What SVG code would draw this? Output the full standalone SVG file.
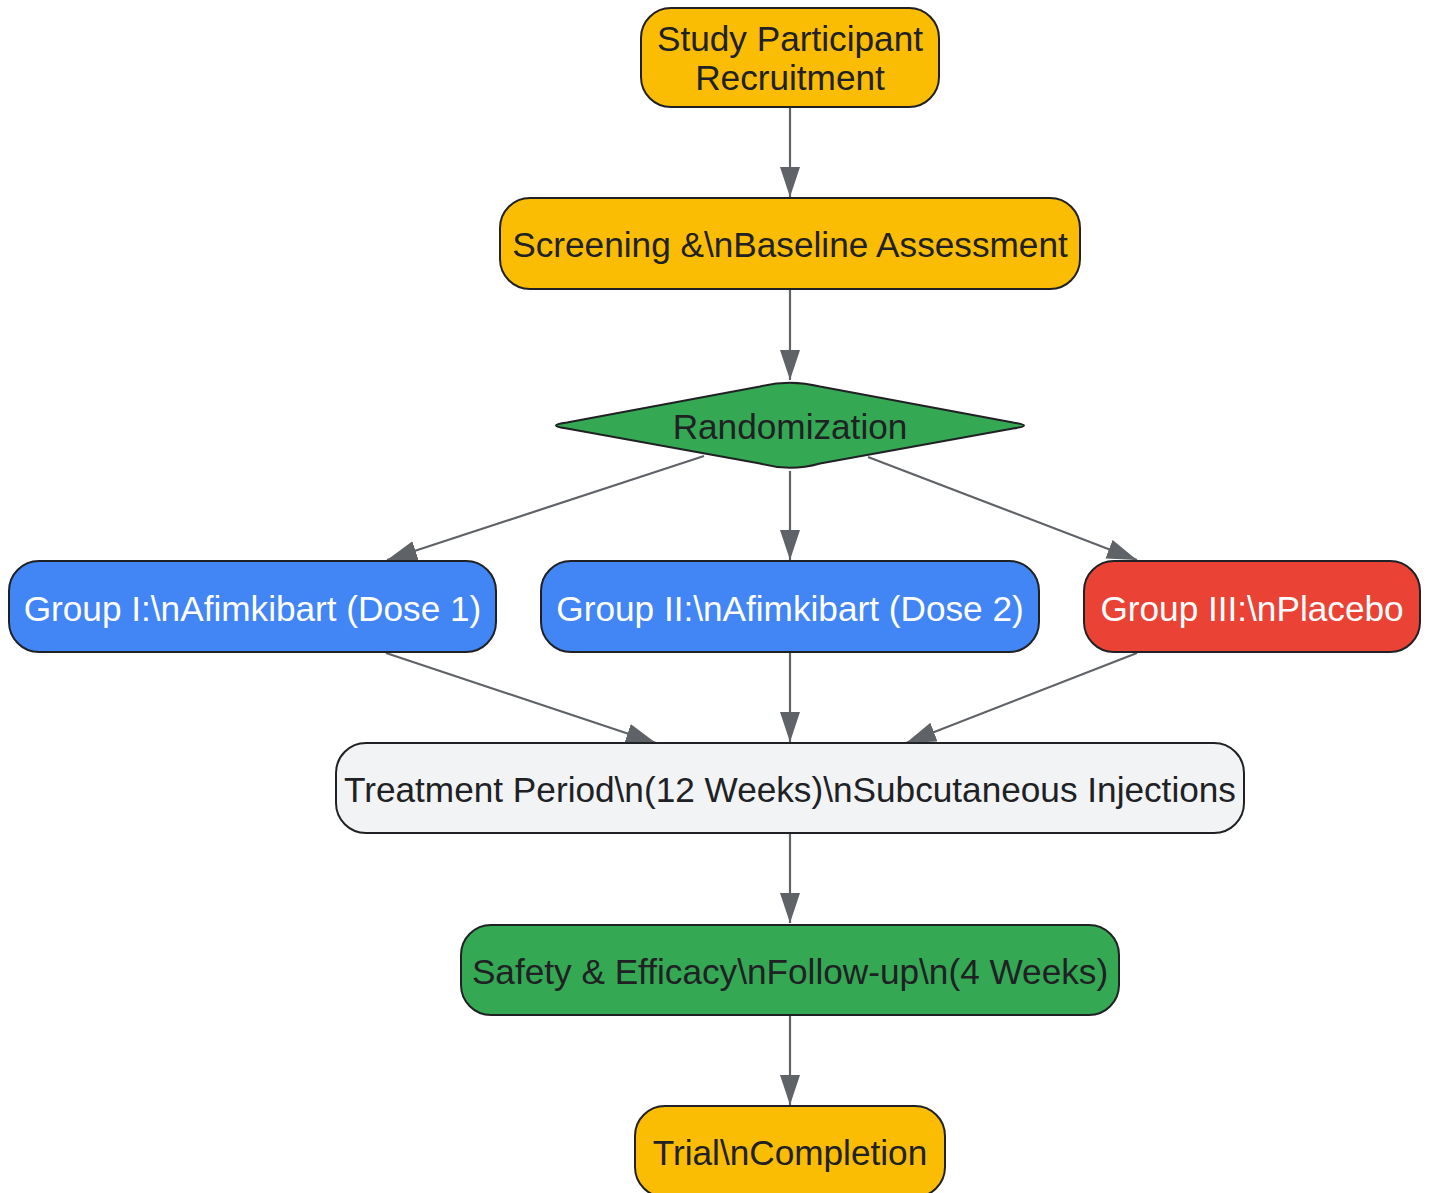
<svg xmlns="http://www.w3.org/2000/svg" width="1430" height="1193" viewBox="0 0 1430 1193">
<defs>
<style>
.node{stroke:#202124;stroke-width:2}
.y{fill:#fbbc04}.b{fill:#4285f4}.r{fill:#ea4335}.g{fill:#34a853}.w{fill:#f1f3f4}
.t{font-family:"Liberation Sans",Arial,Helvetica,sans-serif;font-size:35.2px;text-anchor:middle;fill:#202124}
.tw{fill:#ffffff}
.edge{stroke:#5f6368;stroke-width:2.2;fill:none}
</style>
<marker id="ah" viewBox="0 0 30 20" refX="30" refY="10" markerWidth="30" markerHeight="20" markerUnits="userSpaceOnUse" orient="auto">
<path d="M0,0 L30,10 L0,20 Z" fill="#5f6368"/>
</marker>
</defs>
<rect width="1430" height="1193" fill="#ffffff"/>
<g id="connectors">
<line class="edge" x1="790" y1="107" x2="790" y2="197" marker-end="url(#ah)"/>
<line class="edge" x1="790" y1="289" x2="790" y2="380" marker-end="url(#ah)"/>
<line class="edge" x1="704" y1="456" x2="387" y2="560" marker-end="url(#ah)"/>
<line class="edge" x1="790" y1="471" x2="790" y2="560" marker-end="url(#ah)"/>
<line class="edge" x1="868" y1="457" x2="1137" y2="560" marker-end="url(#ah)"/>
<line class="edge" x1="386" y1="653" x2="656" y2="743" marker-end="url(#ah)"/>
<line class="edge" x1="790" y1="653" x2="790" y2="742" marker-end="url(#ah)"/>
<line class="edge" x1="1137" y1="653" x2="906" y2="743" marker-end="url(#ah)"/>
<line class="edge" x1="790" y1="834" x2="790" y2="923" marker-end="url(#ah)"/>
<line class="edge" x1="790" y1="1016" x2="790" y2="1105" marker-end="url(#ah)"/>
</g>
<g id="recruitment">
<rect class="node y" x="641" y="8" width="298" height="99" rx="30"/>
<text class="t" x="790" y="51">Study Participant</text>
<text class="t" x="790" y="90">Recruitment</text>
</g>
<g id="screening">
<rect class="node y" x="500" y="198" width="580" height="91" rx="30"/>
<text class="t" x="790" y="257">Screening &amp;\nBaseline Assessment</text>
</g>
<g id="randomization">
<path class="node g" d="M567,422.5 L760,386.5 Q790,379 820,386.5 L1013,422.5 Q1035,425.5 1013,428.5 L820,463.5 Q790,472 760,463.5 L567,428.5 Q545,425.5 567,422.5 Z"/>
<text class="t" x="790" y="439">Randomization</text>
</g>
<g id="group1">
<rect class="node b" x="9" y="561" width="487" height="91" rx="30"/>
<text class="t tw" x="252.5" y="621">Group I:\nAfimkibart (Dose 1)</text>
</g>
<g id="group2">
<rect class="node b" x="541" y="561" width="498" height="91" rx="30"/>
<text class="t tw" x="790" y="621">Group II:\nAfimkibart (Dose 2)</text>
</g>
<g id="group3">
<rect class="node r" x="1084" y="561" width="336" height="91" rx="30"/>
<text class="t tw" x="1252" y="621">Group III:\nPlacebo</text>
</g>
<g id="treatment">
<rect class="node w" x="336" y="743" width="908" height="90" rx="30"/>
<text class="t" x="790" y="802">Treatment Period\n(12 Weeks)\nSubcutaneous Injections</text>
</g>
<g id="followup">
<rect class="node g" x="461" y="925" width="658" height="90" rx="30"/>
<text class="t" x="790" y="984">Safety &amp; Efficacy\nFollow-up\n(4 Weeks)</text>
</g>
<g id="completion">
<rect class="node y" x="635" y="1106" width="310" height="91" rx="30"/>
<text class="t" x="790" y="1165">Trial\nCompletion</text>
</g>
</svg>
